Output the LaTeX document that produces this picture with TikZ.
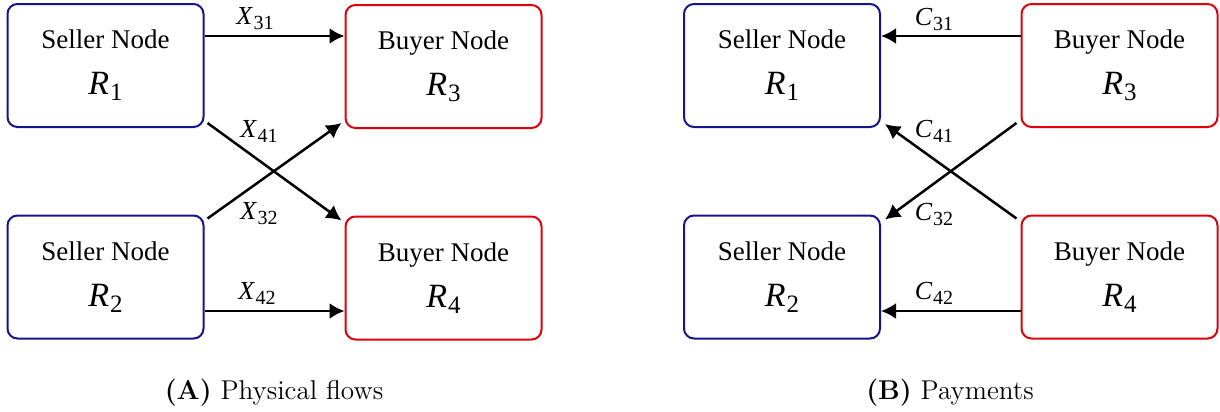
\documentclass[tikz,border=0pt]{standalone}
\usepackage{fontspec}
\newfontfamily\tnr{Liberation Serif}
\usetikzlibrary{arrows.meta}
\definecolor{sellerblue}{RGB}{20,20,140}
\definecolor{buyerred}{RGB}{225,0,10}
\tikzset{
  nodebox/.style={draw, line width=1pt, rounded corners=5pt, minimum width=98pt, minimum height=61.5pt, align=center, font=\tnr\fontsize{13.5}{15}\selectfont, inner sep=0pt},
  seller/.style={nodebox, draw=sellerblue},
  buyer/.style={nodebox, draw=buyerred},
  flow/.style={line width=1.25pt, -{Latex[length=7.5pt,width=8pt]}},
  flab/.style={font=\tnr\fontsize{13}{15}\selectfont, inner sep=1pt},
  captext/.style={font=\fontsize{13.6}{15}\selectfont, inner sep=0pt}
}
\newcommand{\bigR}[1]{{\fontsize{17}{20}\selectfont\textit{R}\kern0.5pt\raisebox{-3pt}{\fontsize{12.5}{14}\selectfont #1}}}
\newcommand{\varlab}[2]{\textit{#1}\kern0.3pt\raisebox{-2.5pt}{\fontsize{10}{12}\selectfont #2}}
\begin{document}
\begin{tikzpicture}[x=0.5pt,y=-0.5pt]
\useasboundingbox (0,0) rectangle (1220,412);
% Panel A
\node[seller] (a1) at (105.5,65.5) {Seller Node\\[8pt]\bigR{1}};
\node[buyer]  (a3) at (443.5,66.5) {Buyer Node\\[8pt]\bigR{3}};
\node[seller] (a2) at (105.5,277) {Seller Node\\[8pt]\bigR{2}};
\node[buyer]  (a4) at (443.5,278) {Buyer Node\\[8pt]\bigR{4}};
\draw[flow] ([yshift=14.75pt]a1.east) -- ([yshift=15.25pt]a3.west);
\draw[flow] ([yshift=-17pt]a2.east) -- ([yshift=-16.5pt]a4.west);
\draw[flow] ([shift={(1.5pt,2.5pt)}]a1.south east) -- ([shift={(-1.5pt,-2.5pt)}]a4.north west);
\draw[flow] ([shift={(1.5pt,-2pt)}]a2.north east) -- ([shift={(-1.5pt,3pt)}]a3.south west);
\node[flab] (lx31) at (255,19) {\varlab{X}{31}};
\node[flab] (lx41) at (259,131) {\varlab{X}{41}};
\node[flab] (lx32) at (259,214) {\varlab{X}{32}};
\node[flab] (lx42) at (257,293) {\varlab{X}{42}};
\node[captext] (capa) at (274,393) {\textbf{(A)} Physical flows};
% Panel B
\node[seller] (b1) at (782,65.5) {Seller Node\\[8pt]\bigR{1}};
\node[buyer]  (b3) at (1119.5,65.5) {Buyer Node\\[8pt]\bigR{3}};
\node[seller] (b2) at (782,277) {Seller Node\\[8pt]\bigR{2}};
\node[buyer]  (b4) at (1119.5,277) {Buyer Node\\[8pt]\bigR{4}};
\draw[flow] ([yshift=14.75pt]b3.west) -- ([yshift=14.75pt]b1.east);
\draw[flow] ([yshift=-17pt]b4.west) -- ([yshift=-17pt]b2.east);
\draw[flow] ([shift={(-2pt,-2pt)}]b4.north west) -- ([shift={(2pt,2pt)}]b1.south east);
\draw[flow] ([shift={(-2pt,2.5pt)}]b3.south west) -- ([shift={(2pt,-2.5pt)}]b2.north east);
\node[flab] (lc31) at (934,19) {\varlab{C}{31}};
\node[flab] (lc41) at (934,131) {\varlab{C}{41}};
\node[flab] (lc32) at (934,214) {\varlab{C}{32}};
\node[flab] (lc42) at (934,293) {\varlab{C}{42}};
\node[captext] (capb) at (950,393) {\textbf{(B)} Payments};
\end{tikzpicture}
\end{document}
